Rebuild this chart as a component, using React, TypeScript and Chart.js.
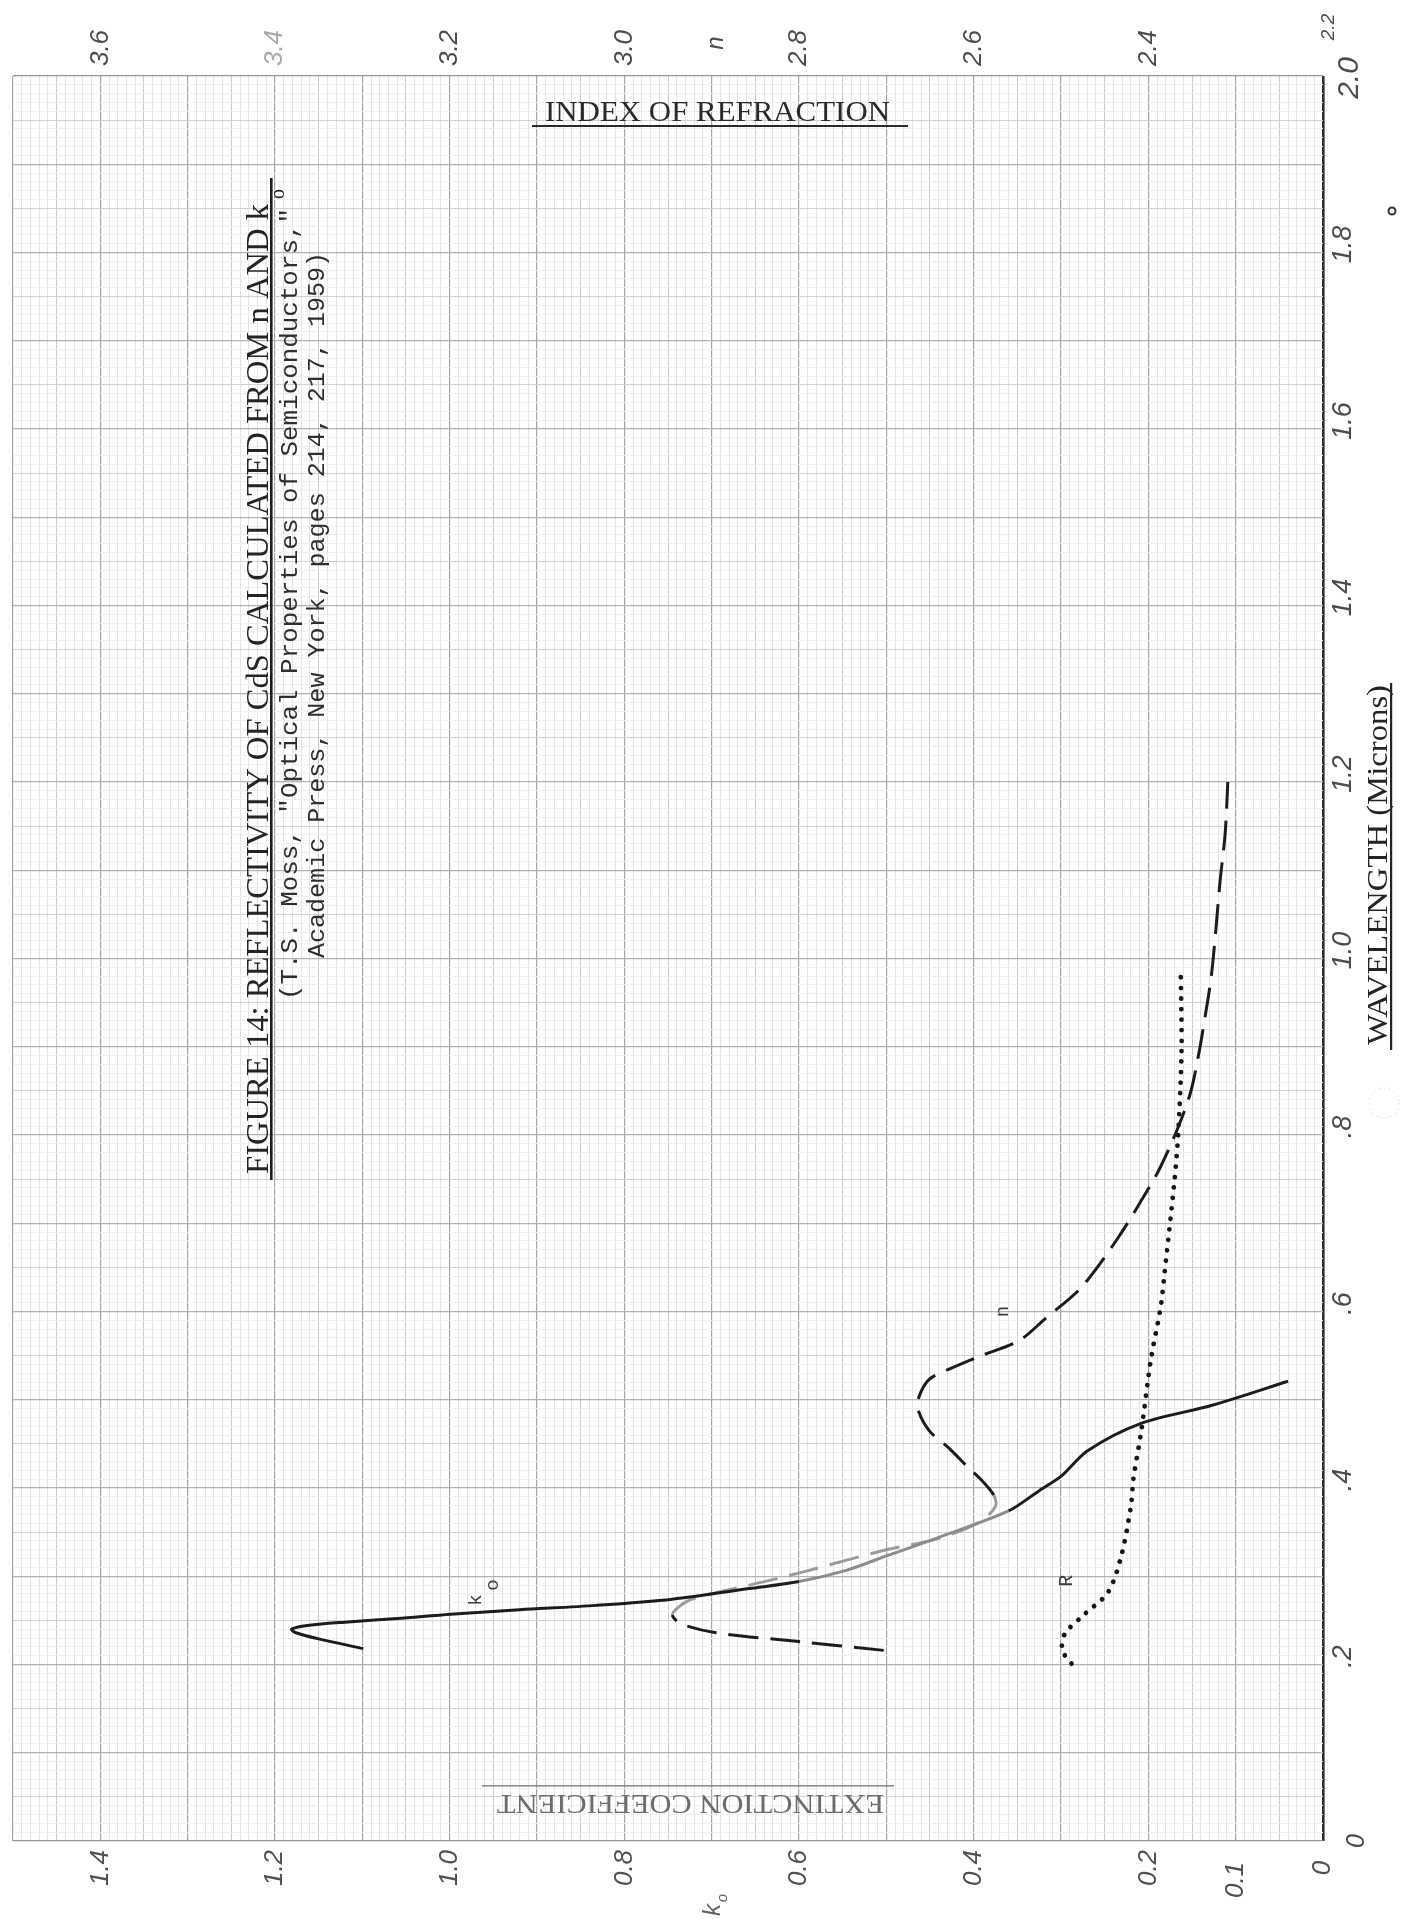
import React, { useEffect, useRef } from "react";
import { Chart, registerables } from "chart.js";

Chart.register(...registerables);

// ---- Data (wavelength in microns) ----
// Extinction coefficient k0
const kWavelength = [0.218, 0.229, 0.236, 0.240, 0.244, 0.248, 0.252, 0.257, 0.262, 0.267, 0.274, 0.286, 0.294, 0.307, 0.323, 0.343, 0.374, 0.397, 0.414, 0.442, 0.473, 0.494, 0.521];
const kValues = [1.099, 1.150, 1.176, 1.181, 1.165, 1.120, 1.060, 0.999, 0.920, 0.832, 0.745, 0.657, 0.600, 0.545, 0.500, 0.443, 0.360, 0.325, 0.299, 0.270, 0.209, 0.126, 0.040];

// Index of refraction n (top scale)
const nWavelength = [0.216, 0.226, 0.236, 0.246, 0.256, 0.265, 0.274, 0.295, 0.305, 0.330, 0.342, 0.361, 0.379, 0.392, 0.410, 0.422, 0.445, 0.465, 0.490, 0.505, 0.523, 0.533, 0.549, 0.567, 0.592, 0.627, 0.683, 0.744, 0.764, 0.806, 0.847, 0.888, 0.934, 0.979, 1.029, 1.086, 1.142, 1.200];
const nValues = [2.703, 2.800, 2.895, 2.935, 2.945, 2.938, 2.923, 2.835, 2.795, 2.700, 2.643, 2.594, 2.575, 2.577, 2.592, 2.605, 2.628, 2.651, 2.664, 2.662, 2.651, 2.632, 2.594, 2.548, 2.518, 2.477, 2.435, 2.397, 2.386, 2.367, 2.352, 2.343, 2.335, 2.328, 2.323, 2.318, 2.312, 2.309];

// Reflectivity R (read on the k0 scale)
const rWavelength = [0.201, 0.211, 0.221, 0.236, 0.257, 0.282, 0.323, 0.379, 0.411, 0.465, 0.546, 0.604, 0.638, 0.749, 0.798, 0.896, 0.990];
const rValues = [0.288, 0.296, 0.299, 0.295, 0.273, 0.246, 0.231, 0.220, 0.217, 0.208, 0.197, 0.186, 0.182, 0.170, 0.166, 0.162, 0.163];

// Tick labels (handwritten on the original)
const kTickValues = [1.4, 1.2, 1.0, 0.8, 0.6, 0.4, 0.2, 0.1, 0];
const kTickLabels = ["1.4", "1.2", "1.0", "0.8", "0.6", "0.4", "0.2", "0.1", "0"];
const nTickValues = [3.6, 3.4, 3.2, 3.0, 2.8, 2.6, 2.4, 2.2];
const nTickLabels = ["3.6", "3.4", "3.2", "3.0", "2.8", "2.6", "2.4", "2.2"];
const wlTickValues = [0, 0.2, 0.4, 0.6, 0.8, 1.0, 1.2, 1.4, 1.6, 1.8, 2.0];
const wlTickLabels = ["0", ".2", ".4", ".6", ".8", "1.0", "1.2", "1.4", "1.6", "1.8", "2.0"];

const TITLE_1 = "FIGURE 14: REFLECTIVITY OF CdS CALCULATED FROM n AND k";
const TITLE_2 = '(T.S. Moss, "Optical Properties of Semiconductors,"';
const TITLE_3 = "Academic Press, New York, pages 214, 217, 1959)";

const K_MAX = 1.5;
const WL_MAX = 2.0;

const serif = (s: number) => `${s}px "Liberation Serif", "DejaVu Serif", serif`;
const mono = (s: number) => `${s}px "Liberation Mono", "DejaVu Sans Mono", monospace`;
const hand = (s: number) => `italic ${s}px "Liberation Sans", "DejaVu Sans", sans-serif`;

function fitRot(ctx: CanvasRenderingContext2D, text: string, x: number, y: number, length: number, font: string, color: string, angle: number) {
  ctx.save();
  ctx.translate(x, y);
  ctx.rotate(angle);
  ctx.font = font;
  ctx.fillStyle = color;
  ctx.textAlign = "left";
  ctx.textBaseline = "alphabetic";
  const w = ctx.measureText(text).width;
  ctx.scale(length / w, 1);
  ctx.fillText(text, 0, 0);
  ctx.restore();
}

function centerRot(ctx: CanvasRenderingContext2D, text: string, x: number, y: number, font: string, color: string, angle = -Math.PI / 2) {
  ctx.save();
  ctx.translate(x, y);
  ctx.rotate(angle);
  ctx.font = font;
  ctx.fillStyle = color;
  ctx.textAlign = "center";
  ctx.textBaseline = "middle";
  ctx.fillText(text, 0, 0);
  ctx.restore();
}

const gridIndex = (v: number) => Math.round(v * 100);

const annotations = {
  id: "paperAnnotations",
  afterDraw(chart: any) {
    const ctx: CanvasRenderingContext2D = chart.ctx;
    const xs = chart.scales.x;
    const xn = chart.scales.xn;
    const ys = chart.scales.y;
    const area = chart.chartArea;
    const R = -Math.PI / 2;

    // Title block (rotated, reading bottom to top)
    fitRot(ctx, TITLE_1, 268, 1174, 970, serif(31), "#242424", R);
    centerRot(ctx, "o", 279, 194, serif(20), "#242424");
    ctx.fillStyle = "#1e1e1e";
    ctx.fillRect(270, 178, 2.6, 1180 - 178);
    fitRot(ctx, TITLE_2, 297, 1000, 792, mono(24), "#2e2e2e", R);
    fitRot(ctx, TITLE_3, 324, 958, 706, mono(24), "#2e2e2e", R);

    // INDEX OF REFRACTION (horizontal, top)
    fitRot(ctx, "INDEX OF REFRACTION", 545, 121, 345, serif(29), "#2a2a2a", 0);
    ctx.fillStyle = "#2a2a2a";
    ctx.fillRect(532, 125, 908 - 532, 2);

    // EXTINCTION COEFFICIENT (upside down, bottom)
    fitRot(ctx, "EXTINCTION COEFFICIENT", 884, 1795, 387, serif(28), "#6c6c6c", Math.PI);
    ctx.fillStyle = "#8a8a8a";
    ctx.fillRect(482, 1785, 894 - 482, 1.6);

    // WAVELENGTH (Microns) (rotated, right side)
    fitRot(ctx, "WAVELENGTH (Microns)", 1387, 1045, 360, serif(30), "#242424", R);
    ctx.fillStyle = "#242424";
    ctx.fillRect(1390, 683, 2.2, 1050 - 683);

    // Top index-of-refraction tick labels
    nTickValues.forEach((v, i) => {
      const x = xn.getPixelForValue(v);
      const isLast = v === 2.2;
      const color = v === 3.4 ? "#a8a8a8" : "#4c4c4c";
      centerRot(ctx, nTickLabels[i], x + (isLast ? 6 : 0), isLast ? 27 : 48, hand(isLast ? 19 : 26), color);
    });
    centerRot(ctx, "n", xn.getPixelForValue(2.9) + 5, 43, hand(24), "#4c4c4c");

    // Bottom extinction coefficient tick labels
    kTickValues.forEach((v, i) => {
      const x = xs.getPixelForValue(v);
      const y = v === 0.1 ? 1880 : 1868;
      centerRot(ctx, kTickLabels[i], x, y, hand(26), "#505050");
    });
    centerRot(ctx, "k", xs.getPixelForValue(0.7) + 2, 1910, hand(24), "#606060");
    centerRot(ctx, "o", xs.getPixelForValue(0.7) + 11, 1898, hand(15), "#606060");

    // Right side wavelength tick labels
    wlTickValues.forEach((v, i) => {
      const y = ys.getPixelForValue(v);
      if (v === 0) {
        centerRot(ctx, wlTickLabels[i], area.right + 34, y, hand(25), "#4c4c4c");
      } else if (v === 2.0) {
        centerRot(ctx, wlTickLabels[i], area.right + 27, y + 2, hand(30), "#4c4c4c");
      } else {
        centerRot(ctx, wlTickLabels[i], area.right + 20, y - 8, hand(27), "#4c4c4c");
      }
    });

    // Curve labels
    centerRot(ctx, "k", xs.getPixelForValue(0.97), ys.getPixelForValue(0.273), mono(19), "#3c3c3c");
    centerRot(ctx, "o", xs.getPixelForValue(0.95), ys.getPixelForValue(0.29), mono(19), "#3c3c3c");
    centerRot(ctx, "n", xs.getPixelForValue(0.367), ys.getPixelForValue(0.6), mono(19), "#3c3c3c");
    centerRot(ctx, "R", xs.getPixelForValue(0.294), ys.getPixelForValue(0.295), mono(20), "#3c3c3c");

    // Small marks on the paper
    ctx.save();
    ctx.strokeStyle = "#333";
    ctx.lineWidth = 2;
    ctx.beginPath();
    ctx.arc(1392, 211, 3.5, 0, Math.PI * 2);
    ctx.stroke();
    ctx.strokeStyle = "rgba(0,0,0,0.12)";
    ctx.lineWidth = 1;
    ctx.setLineDash([2, 3]);
    ctx.beginPath();
    ctx.arc(1384, 1103, 15, 0, Math.PI * 2);
    ctx.stroke();
    ctx.restore();
  },
};

function buildTicks(max: number) {
  return (scale: any) => {
    const n = Math.round(max * 100);
    const ticks: { value: number }[] = [];
    for (let i = 0; i <= n; i++) ticks.push({ value: i / 100 });
    scale.ticks = ticks;
  };
}

export default function App() {
  const ref = useRef<HTMLCanvasElement>(null);

  useEffect(() => {
    const canvas = ref.current;
    if (!canvas) return;

    const kData = kWavelength.map((w, i) => ({ x: kValues[i], y: w }));
    const nData = nWavelength.map((w, i) => ({ x: nValues[i], y: w }));
    const rData = rWavelength.map((w, i) => ({ x: rValues[i], y: w }));

    const chart = new Chart(canvas, {
      type: "line",
      data: {
        datasets: [
          {
            label: "k0",
            data: kData,
            xAxisID: "x",
            yAxisID: "y",
            borderColor: "#1c1c1c",
            borderWidth: 3,
            pointRadius: 0,
            tension: 0.3,
            fill: false,
            segment: {
              borderColor: (c: any) => {
                const w = c.p0.parsed.y;
                return w > 0.29 && w < 0.37 ? "#8c8c8c" : undefined;
              },
            },
          },
          {
            label: "n",
            data: nData,
            xAxisID: "xn",
            yAxisID: "y",
            borderColor: "#1c1c1c",
            borderWidth: 3,
            borderDash: [30, 12],
            pointRadius: 0,
            tension: 0.3,
            fill: false,
            segment: {
              borderColor: (c: any) => {
                const w = c.p0.parsed.y;
                return w > 0.25 && w < 0.38 ? "#9c9c9c" : undefined;
              },
            },
          },
          {
            label: "R",
            data: rData,
            xAxisID: "x",
            yAxisID: "y",
            borderColor: "#161616",
            borderWidth: 4.8,
            borderDash: [0.01, 10.5],
            borderCapStyle: "round",
            pointRadius: 0,
            tension: 0.3,
            fill: false,
          },
        ],
      } as any,
      options: {
        animation: false,
        responsive: false,
        maintainAspectRatio: false,
        layout: { padding: { left: 13, right: 79, top: 76, bottom: 78 } },
        plugins: {
          legend: { display: false },
          tooltip: { enabled: false },
          title: { display: false },
        },
        scales: {
          x: {
            type: "linear",
            min: 0,
            max: K_MAX,
            reverse: true,
            position: "bottom",
            afterBuildTicks: buildTicks(K_MAX),
            ticks: { display: false },
            border: { display: false },
            grid: {
              drawTicks: false,
              color: (c: any) => {
                const i = gridIndex(c.tick.value);
                if (i === 0) return "#2e2e2e";
                if (i % 10 === 0) return "#a6a6a6";
                if (i % 5 === 0) return "#cacaca";
                return "#e4e4e4";
              },
              lineWidth: (c: any) => {
                const i = gridIndex(c.tick.value);
                if (i === 0) return 2.6;
                if (i % 10 === 0) return 1.2;
                return 1;
              },
            },
          },
          xn: {
            type: "linear",
            min: 2.2,
            max: 2.2 + K_MAX,
            reverse: true,
            display: false,
          },
          y: {
            type: "linear",
            min: 0,
            max: WL_MAX,
            position: "left",
            afterBuildTicks: buildTicks(WL_MAX),
            ticks: { display: false },
            border: { display: false },
            grid: {
              drawTicks: false,
              color: (c: any) => {
                const i = gridIndex(c.tick.value);
                if (i === 0 || i === 200) return "#959595";
                if (i % 10 === 0) return "#b2b2b2";
                if (i % 5 === 0) return "#d2d2d2";
                return "#efefef";
              },
              lineWidth: (c: any) => {
                const i = gridIndex(c.tick.value);
                if (i % 10 === 0) return 1.2;
                return 1;
              },
            },
          },
        },
      } as any,
      plugins: [annotations],
    });

    return () => chart.destroy();
  }, []);

  return (
    <div style={{ position: "absolute", left: 0, top: 0, width: 1402, height: 1919, background: "#ffffff" }}>
      <canvas ref={ref} width={1402} height={1919} style={{ display: "block", width: 1402, height: 1919 }} />
    </div>
  );
}
